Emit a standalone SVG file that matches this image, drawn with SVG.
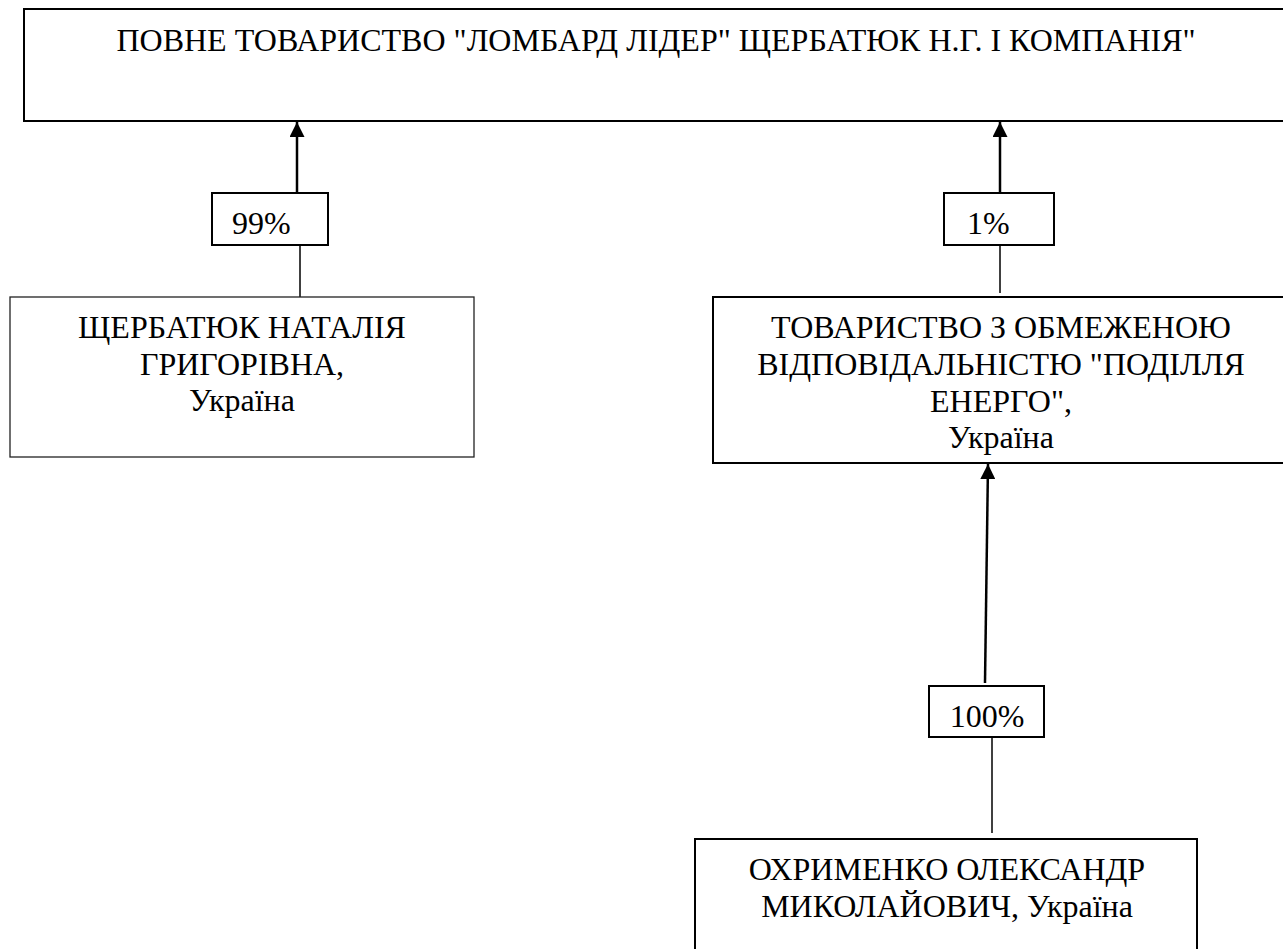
<svg xmlns="http://www.w3.org/2000/svg" width="1283" height="949" viewBox="0 0 1283 949">
<defs>
<style>
.box{fill:#fff;stroke:#000;stroke-width:2}
.thin{fill:#fff;stroke:#222;stroke-width:1.3}
text{font-family:'Liberation Serif','Times New Roman',serif;font-size:32px;fill:#000}
.c{text-anchor:middle}
.arr{stroke:#000;stroke-width:2.5;fill:none}
.ln{stroke:#000;stroke-width:1.5;fill:none}
</style>
<marker id="ah" viewBox="0 0 10 10" refX="10" refY="5" markerWidth="15" markerHeight="15" markerUnits="userSpaceOnUse" orient="auto">
<path d="M0,0 L10,5 L0,10 Z" fill="#000"/>
</marker>
</defs>
<rect width="1283" height="949" fill="#fff"/>
<g id="connectors">
<line class="arr" x1="297" y1="193" x2="297" y2="122" marker-end="url(#ah)"/>
<line class="ln" x1="300" y1="245" x2="300" y2="297"/>
<line class="arr" x1="1000" y1="193" x2="1000" y2="122" marker-end="url(#ah)"/>
<line class="ln" x1="1000" y1="245" x2="1000" y2="293"/>
<line class="arr" x1="985" y1="683" x2="988" y2="464" marker-end="url(#ah)"/>
<line class="ln" x1="992" y1="737" x2="992" y2="833"/>
</g>
<g id="node-top">
<rect class="box" x="24" y="9" width="1270" height="112"/>
<text class="c" x="656" y="51">ПОВНЕ ТОВАРИСТВО "ЛОМБАРД ЛІДЕР" ЩЕРБАТЮК Н.Г. І КОМПАНІЯ"</text>
</g>
<g id="label-99">
<rect class="box" x="212" y="193" width="116" height="52"/>
<text x="232" y="234">99%</text>
</g>
<g id="label-1">
<rect class="box" x="944" y="193" width="110" height="52"/>
<text x="967" y="234">1%</text>
</g>
<g id="label-100">
<rect class="box" x="929" y="686" width="115" height="51"/>
<text class="c" x="987" y="727">100%</text>
</g>
<g id="node-shcherbatiuk">
<rect class="thin" x="10" y="297" width="464" height="160"/>
<text class="c" x="242" y="338">ЩЕРБАТЮК НАТАЛІЯ</text>
<text class="c" x="242" y="375">ГРИГОРІВНА,</text>
<text class="c" x="242" y="411">Україна</text>
</g>
<g id="node-podillia">
<rect class="box" x="713" y="297" width="580" height="166"/>
<text class="c" x="1001" y="338">ТОВАРИСТВО З ОБМЕЖЕНОЮ</text>
<text class="c" x="1001" y="375">ВІДПОВІДАЛЬНІСТЮ "ПОДІЛЛЯ</text>
<text class="c" x="1001" y="412">ЕНЕРГО",</text>
<text class="c" x="1001" y="448">Україна</text>
</g>
<g id="node-okhrymenko">
<rect class="box" x="695" y="839" width="502" height="130"/>
<text class="c" x="947" y="880">ОХРИМЕНКО ОЛЕКСАНДР</text>
<text class="c" x="947" y="917">МИКОЛАЙОВИЧ, Україна</text>
</g>
</svg>
